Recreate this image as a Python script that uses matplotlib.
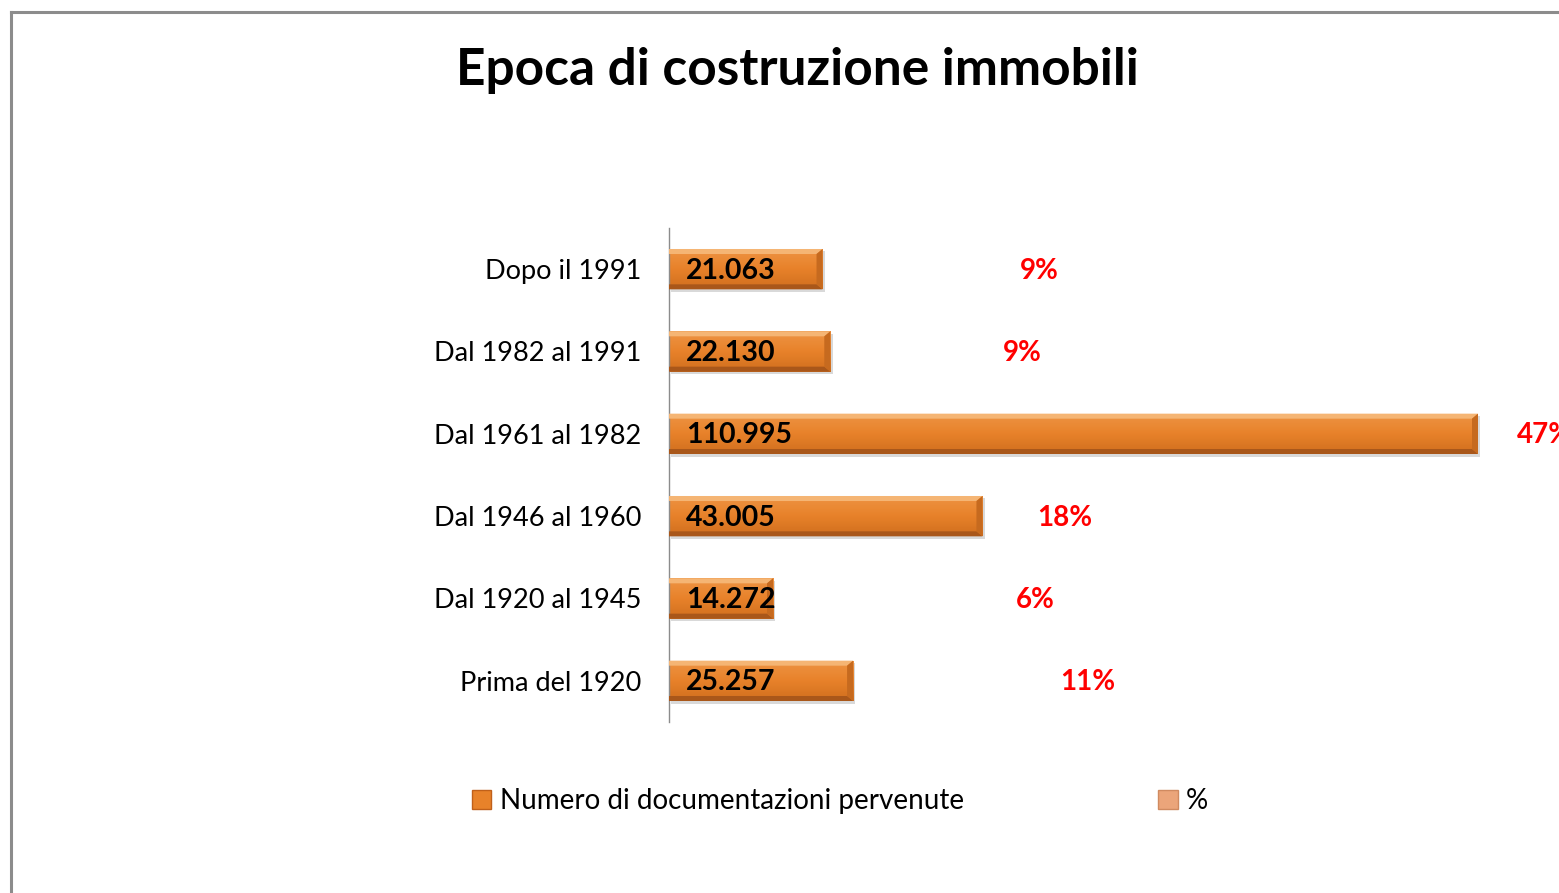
import numpy as np
import matplotlib
matplotlib.use("Agg")
import matplotlib.pyplot as plt
from matplotlib.patches import Polygon, Patch, Rectangle
from matplotlib.lines import Line2D

plt.rcParams['font.family'] = ['Lato', 'DejaVu Sans']

# data (top to bottom as in the chart)
categories = ["Dopo il 1991", "Dal 1982 al 1991", "Dal 1961 al 1982",
              "Dal 1946 al 1960", "Dal 1920 al 1945", "Prima del 1920"]
values = [21063, 22130, 110995, 43005, 14272, 25257]
percent = [9, 9, 47, 18, 6, 11]
# where the red % labels sit (data units)
pct_label_x = [48150, 45820, 116330, 50480, 47600, 53640]

legend_labels = ["Numero di documentazioni pervenute", "%"]

ORANGE = "#E8822A"
LIGHT = "#F5B574"
DARK = "#A9571A"
SIDE = "#C66A1F"


def bevel(ax, patch, bx, by):
    """Draw a simple 3D bevel over one bar."""
    x0, y0 = patch.get_x(), patch.get_y()
    x1, y1 = x0 + patch.get_width(), y0 + patch.get_height()

    # soft drop shadow
    ax.add_patch(Rectangle((x0 + bx * 0.4, y0 - by * 0.5), x1 - x0, y1 - y0,
                           facecolor="#000000", alpha=0.15, edgecolor="none", zorder=1))

    # vertical gradient on the face
    grad = np.linspace(0, 1, 64).reshape(-1, 1)
    cmap = matplotlib.colors.LinearSegmentedColormap.from_list(
        "o", ["#D06E1E", ORANGE, "#EE9444"])
    im = ax.imshow(grad, extent=(x0, x1, y0, y1), origin="lower", cmap=cmap,
                   aspect="auto", zorder=2)
    im.set_clip_path(patch)

    ax.add_patch(Polygon([(x0, y1), (x1, y1), (x1 - bx, y1 - by), (x0, y1 - by)],
                         facecolor=LIGHT, edgecolor="none", zorder=3))
    ax.add_patch(Polygon([(x0, y0), (x1, y0), (x1 - bx, y0 + by), (x0, y0 + by)],
                         facecolor=DARK, edgecolor="none", zorder=3))
    ax.add_patch(Polygon([(x1, y0), (x1, y1), (x1 - bx, y1 - by), (x1 - bx, y0 + by)],
                         facecolor=SIDE, edgecolor="none", zorder=3))


fig = plt.figure(figsize=(15.59, 8.93), dpi=100)
ax = fig.add_axes([669 / 1559, 1 - 722 / 893, (1559 - 669) / 1559, 494 / 893])

ypos = np.arange(len(categories))[::-1]
bars = ax.barh(ypos, values, height=0.49, color=ORANGE, zorder=2)

xmax = 110995 * (1559 - 669) / (1478 - 669)
ax.set_xlim(0, xmax)
ax.set_ylim(-0.5, len(categories) - 0.5)

px_x = xmax / (1559 - 669)
px_y = len(categories) / 494
for b in bars:
    bevel(ax, b, 6 * px_x, 5 * px_y)

ax.set_xlim(0, xmax)
ax.set_ylim(-0.5, len(categories) - 0.5)

for y, v in zip(ypos, values):
    ax.text(17 * px_x, y - 0.02, f"{v:,}".replace(",", "."), ha="left", va="center",
            fontsize=20.5, fontweight="bold", color="black", zorder=5)

for y, p, xl in zip(ypos, percent, pct_label_x):
    ax.text(xl, y - 0.02, f"{p}%", ha="left", va="center", fontsize=20,
            fontweight="bold", color="#FF0000", clip_on=False, zorder=5)

ax.set_yticks(ypos)
ax.set_yticklabels(categories, fontsize=19.5)
ax.tick_params(axis="y", length=0, pad=20)
ax.set_xticks([])
for s in ["top", "right", "bottom"]:
    ax.spines[s].set_visible(False)
ax.spines["left"].set_color("#8C8C8C")
ax.spines["left"].set_linewidth(1)

fig.text(797 / 1559, 1 - 70 / 893, "Epoca di costruzione immobili",
         ha="center", va="center", fontsize=37, fontweight="bold")

handles = [Patch(facecolor=ORANGE, edgecolor="#C0601A"),
           Patch(facecolor="#EBA57A", edgecolor="#D08A60")]
fig.legend(handles, legend_labels, loc="center left",
           bbox_to_anchor=(472 / 1559, 1 - 801 / 893), ncol=2, frameon=False,
           fontsize=20, handlelength=0.7, handleheight=0.7, handletextpad=0.3,
           columnspacing=7.0, borderpad=0, borderaxespad=0)

# chart frame (cropped at the right and bottom)
fig.add_artist(Line2D([11 / 1559, 1.0], [1 - 12 / 893] * 2, color="#8C8C8C",
                      lw=2.2, transform=fig.transFigure))
fig.add_artist(Line2D([11 / 1559] * 2, [1 - 12 / 893, 0.0], color="#8C8C8C",
                      lw=2.2, transform=fig.transFigure))

fig.savefig("out.png", dpi=100)
